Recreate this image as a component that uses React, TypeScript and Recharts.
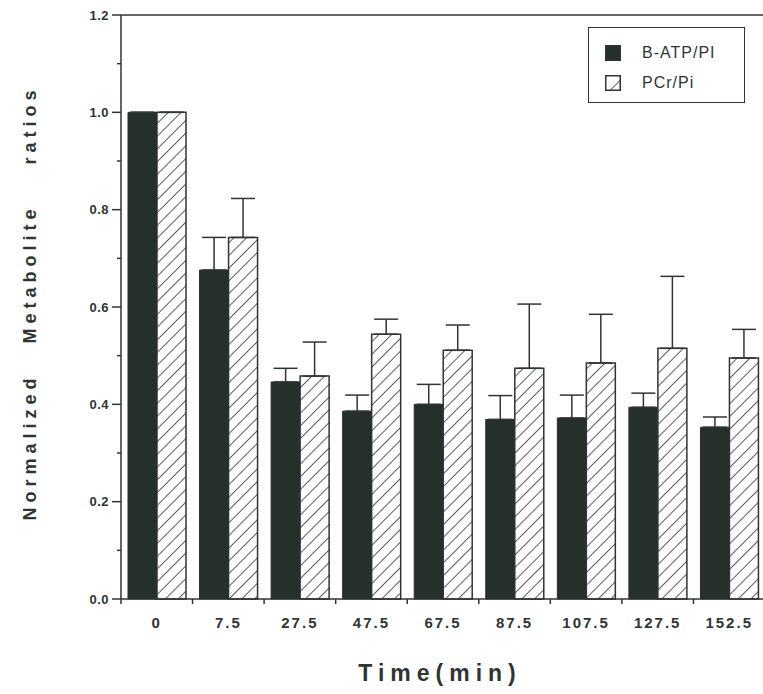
import {
  BarChart,
  Bar,
  XAxis,
  YAxis,
  ErrorBar,
  Legend,
  Label,
  ReferenceLine,
} from 'recharts';

const times = ['0', '7.5', '27.5', '47.5', '67.5', '87.5', '107.5', '127.5', '152.5'];
const atpPi = [1.0, 0.676, 0.446, 0.386, 0.4, 0.369, 0.372, 0.394, 0.353];
const atpPiErr = [0, 0.067, 0.028, 0.033, 0.041, 0.049, 0.047, 0.029, 0.021];
const pcrPi = [1.0, 0.743, 0.458, 0.544, 0.511, 0.474, 0.485, 0.515, 0.495];
const pcrPiErr = [0, 0.08, 0.07, 0.031, 0.052, 0.132, 0.1, 0.148, 0.059];
const yTicks = [0, 0.1, 0.2, 0.3, 0.4, 0.5, 0.6, 0.7, 0.8, 0.9, 1.0, 1.1, 1.2];

const INK = '#2f3532';
const DARK = '#25302b';
const FONT = '"Liberation Sans", Arial, sans-serif';

const data = times.map((t, i) => ({
  time: t,
  atp: atpPi[i],
  atpErr: [0, atpPiErr[i]],
  pcr: pcrPi[i],
  pcrErr: [0, pcrPiErr[i]],
}));

// eslint-disable-next-line @typescript-eslint/no-explicit-any
function YTick(props: any) {
  const { x, y, payload } = props;
  const v = Number(payload.value);
  const major = Math.round(v * 10) % 2 === 0;
  return (
    <g>
      <line x1={x - (major ? 9 : 4)} x2={x} y1={y} y2={y} stroke={INK} strokeWidth={1.5} />
      {major && (
        <text
          x={x - 12}
          y={y}
          textAnchor="end"
          dominantBaseline="central"
          fontSize={13}
          fontWeight={600}
          letterSpacing={0.5}
          fontFamily={FONT}
          fill={INK}
        >
          {v.toFixed(1)}
        </text>
      )}
    </g>
  );
}

// eslint-disable-next-line @typescript-eslint/no-explicit-any
function XTick(props: any) {
  const { x, y, payload, index } = props;
  const half = payload.offset || 35.8;
  return (
    <g>
      <line x1={x - half} x2={x - half} y1={y} y2={y + 5} stroke={INK} strokeWidth={1.5} />
      {index === times.length - 1 && (
        <line x1={x + half} x2={x + half} y1={y} y2={y + 5} stroke={INK} strokeWidth={1.5} />
      )}
      <text
        x={x}
        y={y + 23}
        textAnchor="middle"
        dominantBaseline="central"
        fontSize={15}
        fontWeight={600}
        letterSpacing={2}
        fontFamily={FONT}
        fill={INK}
      >
        {payload.value}
      </text>
    </g>
  );
}

// eslint-disable-next-line @typescript-eslint/no-explicit-any
function renderLegend(props: any) {
  const { payload } = props;
  return (
    <div
      style={{
        border: `1.5px solid ${INK}`,
        width: 157,
        height: 76,
        boxSizing: 'border-box',
        padding: '10px 0 0 16px',
        fontFamily: FONT,
        fontSize: 16,
        letterSpacing: 1,
        color: INK,
        background: '#fff',
      }}
    >
      {(payload || []).map((p: any, i: number) => (
        <div key={`leg-${i}`} style={{ display: 'flex', alignItems: 'center', height: 30 }}>
          <svg width={16} height={16} style={{ marginRight: 21 }}>
            <rect
              x={0.75}
              y={0.75}
              width={14.5}
              height={14.5}
              fill={p.dataKey === 'atp' ? DARK : 'url(#hatch-legend)'}
              stroke={INK}
              strokeWidth={1.5}
            />
          </svg>
          <span>{p.value}</span>
        </div>
      ))}
    </div>
  );
}

export default function App() {
  return (
    <div
      style={{
        position: 'fixed',
        left: 0,
        top: 0,
        width: 763,
        height: 694,
        overflow: 'hidden',
        background: '#fff',
      }}
    >
      <svg width={0} height={0} style={{ position: 'absolute' }}>
        <defs>
          <pattern id="hatch" patternUnits="userSpaceOnUse" width={9} height={9} patternTransform="rotate(45)">
            <rect width={9} height={9} fill="#fff" />
            <line x1={0} y1={0} x2={0} y2={9} stroke={INK} strokeWidth={1.6} />
          </pattern>
          <pattern id="hatch-legend" patternUnits="userSpaceOnUse" width={14} height={14} patternTransform="rotate(45)">
            <rect width={14} height={14} fill="#fff" />
            <line x1={0} y1={0} x2={0} y2={14} stroke={INK} strokeWidth={1.6} />
          </pattern>
        </defs>
      </svg>
      <BarChart
        width={790}
        height={694}
        data={data}
        margin={{ top: 15, right: 25, bottom: 0, left: 0 }}
        barGap={0}
        barSize={29}
      >
        <XAxis
          dataKey="time"
          height={95}
          tickSize={0}
          tickMargin={0}
          tick={<XTick />}
          axisLine={{ stroke: INK, strokeWidth: 1.5 }}
          interval={0}
        >
          <Label
            content={(p: any) => {
              const vb = p.viewBox || {};
              return (
                <text
                  x={vb.x + vb.width / 2 - 3}
                  y={vb.y + 74}
                  textAnchor="middle"
                  dominantBaseline="central"
                  fontSize={23}
                  fontWeight={700}
                  letterSpacing={6}
                  fontFamily={FONT}
                  fill={INK}
                >
                  Time(min)
                </text>
              );
            }}
          />
        </XAxis>
        <YAxis
          width={121}
          domain={[0, 1.2]}
          ticks={yTicks}
          interval={0}
          tickSize={0}
          tickMargin={0}
          tick={<YTick />}
          axisLine={{ stroke: INK, strokeWidth: 1.5 }}
        >
          <Label
            content={(p: any) => {
              const vb = p.viewBox || {};
              const cx = vb.x + 30;
              const cy = vb.y + vb.height / 2 - 4;
              return (
                <text
                  x={cx}
                  y={cy}
                  transform={`rotate(-90 ${cx} ${cy})`}
                  textAnchor="middle"
                  dominantBaseline="central"
                  fontSize={18}
                  fontWeight={600}
                  letterSpacing={5}
                  fontFamily={FONT}
                  fill={INK}
                >
                  {'Normalized\u00a0\u00a0\u00a0Metabolite\u00a0\u00a0\u00a0\u00a0ratios'}
                </text>
              );
            }}
          />
        </YAxis>
        <ReferenceLine y={1.2} stroke={INK} strokeWidth={1.5} ifOverflow="visible" />
        <Legend
          layout="vertical"
          align="center"
          verticalAlign="middle"
          content={renderLegend}
          wrapperStyle={{ top: 27, left: 588, width: 157 }}
        />
        <Bar
          dataKey="atp"
          name="B-ATP/PI"
          fill={DARK}
          stroke={DARK}
          strokeWidth={1}
          isAnimationActive={false}
        >
          <ErrorBar dataKey="atpErr" width={12} stroke={INK} strokeWidth={1.5} />
        </Bar>
        <Bar
          dataKey="pcr"
          name="PCr/Pi"
          fill="url(#hatch)"
          stroke={INK}
          strokeWidth={1.5}
          isAnimationActive={false}
        >
          <ErrorBar dataKey="pcrErr" width={12} stroke={INK} strokeWidth={1.5} />
        </Bar>
      </BarChart>
    </div>
  );
}
